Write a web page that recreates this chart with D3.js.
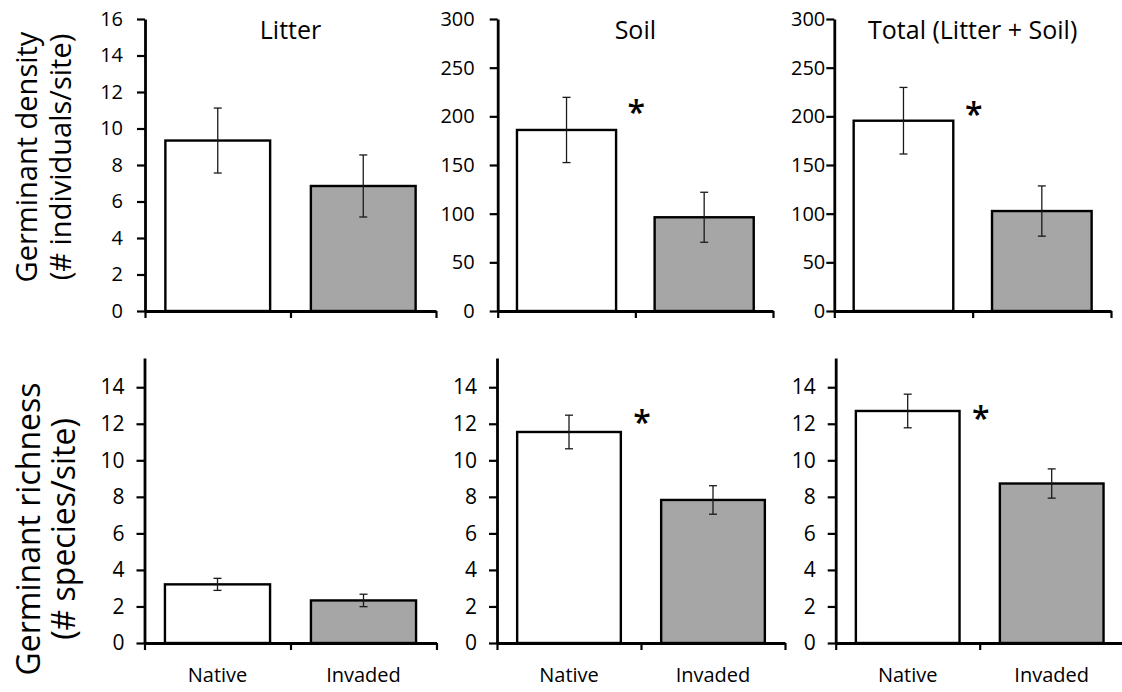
<!DOCTYPE html>
<html><head><meta charset="utf-8">
<script src="https://cdn.jsdelivr.net/npm/d3@7"></script>
<style>html,body{margin:0;padding:0;background:#fff;} svg{display:block;font-family:"Open Sans",sans-serif;}</style>
</head><body><svg id="c" width="1122" height="692"></svg>
<script>
// ---------- data ----------
const categories = ["Native", "Invaded"];
const panelTitles = ["Litter", "Soil", "Total (Litter + Soil)"];
const densityLabel = ["Germinant density", "(# individuals/site)"];
const richnessLabel = ["Germinant richness", "(# species/site)"];

const densityMeans = [[9.34, 6.85], [186, 96.3], [195.5, 102.7]];
const densitySE    = [[1.78, 1.70], [33.5, 25.7], [34.2, 25.8]];
const densityMax   = [16, 300, 300];
const densityTicks = [[0, 2, 4, 6, 8, 10, 12, 14, 16],
                      [0, 50, 100, 150, 200, 250, 300],
                      [0, 50, 100, 150, 200, 250, 300]];
const densitySig   = [null, 211, 209];

const richnessMeans = [[3.21, 2.33], [11.55, 7.83], [12.7, 8.73]];
const richnessSE    = [[0.33, 0.34], [0.92, 0.78], [0.92, 0.80]];
const richnessMax   = [15.6, 15.6, 15.6];
const richnessTicks = [0, 2, 4, 6, 8, 10, 12, 14];
const richnessSig   = [null, 12.42, 12.66];

// ---------- layout ----------
const svg = d3.select("#c");
const barFill = ["#ffffff", "#a6a6a6"];

const topRow = {
  frames: [[145, 436], [497.7, 773], [834.3, 1111]],
  y: [311, 19], labelGap: [22, 23, 9], tickFont: 20, catLabels: false
};
const botRow = {
  frames: [[144.5, 436.5], [497, 785], [835.7, 1123.7]],
  y: [643, 358], labelGap: [20, 20, 20], tickFont: 21, catLabels: true
};

function drawPanel(row, i, means, ses, ymax, ticks, sig, title) {
  const [x0, x1] = row.frames[i];
  const g = svg.append("g");
  const x = d3.scaleBand().domain(categories).range([x0, x1])
    .paddingInner(0.28).paddingOuter(0.14);
  const y = d3.scaleLinear().domain([0, ymax]).range(row.y);

  const data = categories.map((c, k) => ({c, m: means[k], se: ses[k], k}));

  // bars
  g.selectAll("rect.bar").data(data).join("rect")
    .attr("x", d => x(d.c)).attr("width", x.bandwidth())
    .attr("y", d => y(d.m)).attr("height", d => y(0) - y(d.m))
    .attr("fill", d => barFill[d.k]).attr("stroke", "#000").attr("stroke-width", 2.4);

  // error bars
  const eb = g.selectAll("g.eb").data(data).join("g").attr("stroke", "#1a1a1a").attr("stroke-width", 1.3);
  eb.append("line")
    .attr("x1", d => x(d.c) + x.bandwidth() / 2).attr("x2", d => x(d.c) + x.bandwidth() / 2)
    .attr("y1", d => y(d.m + d.se)).attr("y2", d => y(d.m - d.se));
  [1, -1].forEach(s => {
    eb.append("line")
      .attr("x1", d => x(d.c) + x.bandwidth() / 2 - 4).attr("x2", d => x(d.c) + x.bandwidth() / 2 + 4)
      .attr("y1", d => y(d.m + s * d.se)).attr("y2", d => y(d.m + s * d.se));
  });

  // y axis
  const ya = g.append("g").attr("transform", `translate(${x0},0)`)
    .call(d3.axisLeft(y).tickValues(ticks).tickSize(8).tickSizeOuter(0).tickPadding(row.labelGap[i] - 8));
  ya.select(".domain").attr("stroke-width", 2.8);
  ya.selectAll(".tick line").attr("stroke-width", 2.2);
  ya.selectAll(".tick text").attr("font-size", row.tickFont).attr("font-family", "Open Sans").attr("fill", "#000");

  // x axis (three ticks: edges and divider)
  const xl = d3.scaleLinear().domain([0, 2]).range([x0, x1]);
  const xa = g.append("g").attr("transform", `translate(0,${row.y[0]})`)
    .call(d3.axisBottom(xl).tickValues([0, 1, 2]).tickFormat("").tickSize(7).tickSizeOuter(0));
  xa.select(".domain").attr("stroke-width", 2.8);
  xa.selectAll(".tick line").attr("stroke-width", 2.2);

  if (row.catLabels) {
    g.selectAll("text.cat").data(categories).join("text")
      .attr("x", c => x(c) + x.bandwidth() / 2).attr("y", row.y[0] + 39)
      .attr("text-anchor", "middle").attr("font-size", 20).text(c => c);
  }
  if (title) {
    g.append("text").attr("x", xl(1)).attr("y", 39)
      .attr("text-anchor", "middle").attr("font-size", 25).text(title);
  }
  if (sig != null) {
    g.append("text").attr("x", xl(1) + 1).attr("y", y(sig) + 18)
      .attr("text-anchor", "middle").attr("font-size", 32).attr("font-weight", 600).text("*");
  }
}

for (let i = 0; i < 3; i++) {
  drawPanel(topRow, i, densityMeans[i], densitySE[i], densityMax[i], densityTicks[i], densitySig[i], panelTitles[i]);
  drawPanel(botRow, i, richnessMeans[i], richnessSE[i], richnessMax[i], richnessTicks, richnessSig[i], null);
}

// y axis titles
function yTitle(lines, cy, fs, bx) {
  lines.forEach((t, k) => {
    svg.append("text").attr("transform", `translate(${bx[k]},${cy}) rotate(-90)`)
      .attr("text-anchor", "middle").attr("font-size", fs).text(t);
  });
}
yTitle(densityLabel, 157, 29, [37, 71]);
yTitle(richnessLabel, 529, 32, [40, 75]);
</script></body></html>
